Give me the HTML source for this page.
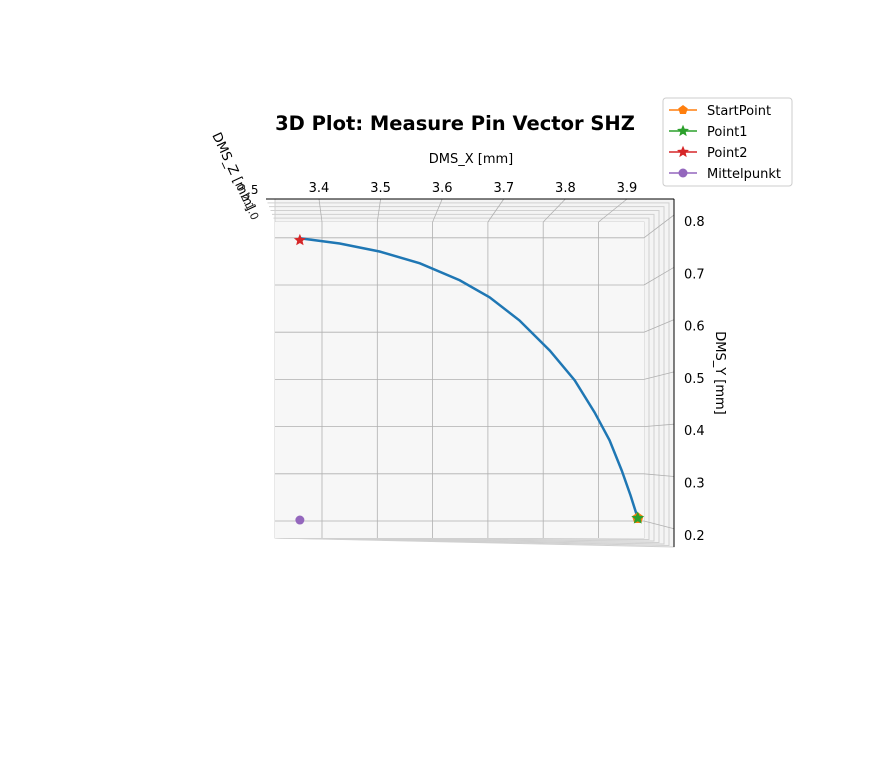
<!DOCTYPE html>
<html><head><meta charset="utf-8"><style>
body{margin:0;background:#fff;font-family:"Liberation Sans","DejaVu Sans",sans-serif;}
svg text{font-family:"DejaVu Sans","Liberation Sans",sans-serif;}
</style></head><body>
<svg width="888" height="762" xmlns="http://www.w3.org/2000/svg">
<script>
const xTicks=[3.4,3.5,3.6,3.7,3.8,3.9];
const yTicks=[0.8,0.7,0.6,0.5,0.4,0.3,0.2];
const curveX=[3.360,3.432,3.504,3.577,3.649,3.703,3.757,3.812,3.857,3.893,3.920,3.942,3.958,3.971];
const curveY=[0.799,0.788,0.771,0.746,0.710,0.674,0.625,0.561,0.498,0.430,0.371,0.307,0.254,0.206];
const startPt=[3.971,0.206];
const point2=[3.360,0.795];
const mittel=[3.360,0.202];
</script>
<g id="frames" stroke="#d0d0d0" fill="#f4f4f4"></g>
<rect x="275" y="222" width="369" height="316" fill="#f7f7f7"/>
<g id="grid" stroke="#b0b0b0" stroke-width="0.8"></g>
<line x1="266" y1="199" x2="674" y2="199" stroke="#000"/>
<line x1="674" y1="199" x2="674" y2="547" stroke="#000"/>
<g id="ticks" font-size="13" fill="#000"></g>
<path id="curve" fill="none" stroke="#1f77b4" stroke-width="2.5"/>
<g id="markers"></g>
<text x="455" y="130" font-size="19.5" font-weight="bold" text-anchor="middle">3D Plot: Measure Pin Vector SHZ</text>
<text x="471" y="163" font-size="13" text-anchor="middle">DMS_X [mm]</text>
<text transform="translate(716,373) rotate(90)" font-size="13" text-anchor="middle">DMS_Y [mm]</text>
<text transform="translate(212,135) rotate(65)" font-size="13">DMS_Z [mm]</text>
<text x="247" y="194" font-size="12">.5</text>
<text transform="translate(236,186) rotate(65)" font-size="11" fill="#222">0.2.1.0</text>
<g>
<rect x="663" y="98" width="129" height="88" rx="3" fill="#fff" stroke="#ccc"/>
<g id="legend"></g>
</g>
<script>
const ns="http://www.w3.org/2000/svg";
const X=v=>322+(v-3.4)*553, Y=v=>521-(v-0.2)*472;
const XL=v=>319+(v-3.4)*616, YL=v=>221+(0.8-v)*523;
function mk(t,a,p){const e=document.createElementNS(ns,t);for(const k in a)e.setAttribute(k,a[k]);p.appendChild(e);return e;}
const fr=document.getElementById('frames');
for(let i=0;i<7;i++){const f=i/6;
 const top=199+23*f, right=674-30*f, left=266+9*f, bot=547-9*f;
 const r=mk('path',{d:`M${left},${top}L${right},${top}L${right},${bot}L${275},${538}L275,${top}Z`},fr);
 
 }
const g=document.getElementById('grid'), tk=document.getElementById('ticks');
xTicks.forEach(v=>{const x=X(v);
 const l=mk('line',{x1:x,y1:538,x2:x,y2:222},g);
 
 
 const d=mk('line',{x1:x,y1:222,x2:XL(v),y2:199},g);
 
 
 const t=mk('text',{x:XL(v),y:192,'text-anchor':'middle'},tk);t.textContent=v.toFixed(1);
 
 });
yTicks.forEach(v=>{const y=Y(v);
 const l=mk('line',{x1:275,y1:y,x2:644,y2:y},g);
 
 
 const d=mk('line',{x1:644,y1:y,x2:674,y2:YL(v)-6},g);
 
 
 const t=mk('text',{x:684,y:YL(v)+5},tk);t.textContent=v.toFixed(1);
 
 });
document.getElementById('curve').setAttribute('d',curveX.map((v,i)=>(i?'L':'M')+X(v)+','+Y(curveY[i])).join(''));
const m=document.getElementById('markers');
function starPath(cx,cy,r,n,inner){let p='';for(let i=0;i<2*n;i++){const rr=i%2?r*inner:r,a=-Math.PI/2+i*Math.PI/n;p+=(i?'L':'M')+(cx+rr*Math.cos(a)).toFixed(2)+','+(cy+rr*Math.sin(a)).toFixed(2);}return p+'Z';}
function star(cx,cy,r,fill,stroke,name,par){
 const e=mk('path',{d:starPath(cx,cy,r,5,0.45),fill:fill,stroke:stroke,'stroke-width':1},par);
 
 }
function pent(cx,cy,r,fill,name,par){
 const e=mk('path',{d:starPath(cx,cy,r,5,0.81),fill:fill},par);
 
 }
pent(X(startPt[0]),Y(startPt[1]),6,'#ff7f0e','start-point-marker',m);
star(X(startPt[0]),Y(startPt[1]),5.5,'#2ca02c','#2ca02c','point1-marker',m);
star(X(point2[0]),Y(point2[1]),5,'#d62728','#d62728','point2-marker',m);
const c=mk('circle',{cx:X(mittel[0]),cy:Y(mittel[1]),r:4.5,fill:'#9467bd'},m);


const lg=document.getElementById('legend');
const items=[['StartPoint','#ff7f0e','p'],['Point1','#2ca02c','s'],['Point2','#d62728','s'],['Mittelpunkt','#9467bd','c']];
items.forEach((it,i)=>{const y=110+i*21;
 const l=mk('line',{x1:669,y1:y,x2:697,y2:y,stroke:it[1],'stroke-width':1.5},lg);
 
 
 if(it[2]==='c'){const cc=mk('circle',{cx:683,cy:y,r:4.5,fill:it[1]},lg);}
 else if(it[2]==='p'){pent(683,y,5,it[1],'legend-marker',lg);}
 else{star(683,y,5,it[1],it[1],'legend-marker',lg);}
 const t=mk('text',{x:707,y:y+5,'font-size':13},lg);t.textContent=it[0];
 
 });
</script>
</svg>
</body></html>
